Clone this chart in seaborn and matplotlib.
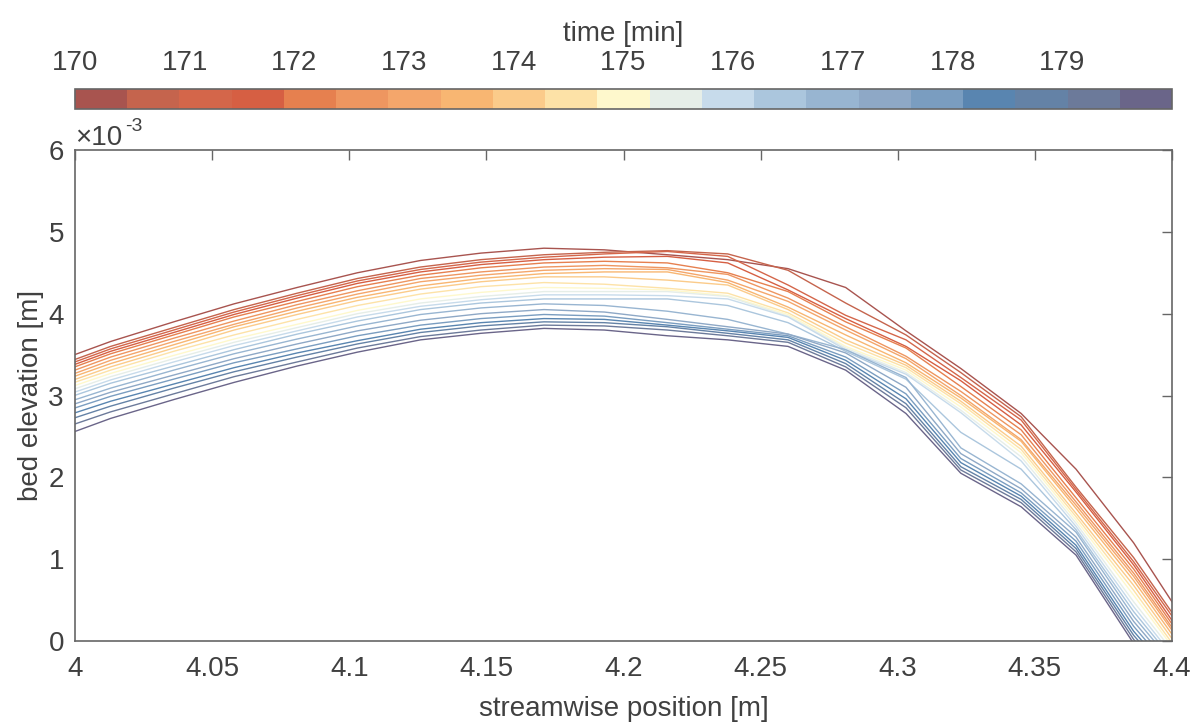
import matplotlib
matplotlib.use("Agg")
import matplotlib.pyplot as plt
import pandas as pd
import seaborn as sns
from matplotlib.colors import ListedColormap, Normalize
from matplotlib.cm import ScalarMappable

# streamwise sampling positions [m]
positions = [3.991, 4.013, 4.036, 4.058, 4.081, 4.103, 4.126, 4.148, 4.171, 4.193,
             4.216, 4.238, 4.260, 4.281, 4.303, 4.323, 4.345, 4.365, 4.386, 4.406]

# survey times [min]
times = [170.0, 170.5, 171.0, 171.5, 172.0, 172.5, 173.0, 173.5, 174.0, 174.5, 175.0,
         175.5, 176.0, 176.5, 177.0, 177.5, 178.0, 178.5, 179.0, 179.5, 180.0]

# bed elevation profiles, in units of 1e-3 m
z170_0 = [3.39, 3.66, 3.90, 4.12, 4.32, 4.50, 4.65, 4.74, 4.80, 4.78, 4.72, 4.66, 4.55, 4.32, 3.79, 3.33, 2.78, 2.10, 1.20, 0.17]
z170_5 = [3.33, 3.60, 3.83, 4.05, 4.25, 4.43, 4.57, 4.66, 4.72, 4.75, 4.77, 4.73, 4.53, 4.13, 3.74, 3.28, 2.74, 1.88, 1.02, 0.06]
z171_0 = [3.30, 3.57, 3.80, 4.02, 4.22, 4.40, 4.54, 4.63, 4.69, 4.73, 4.76, 4.70, 4.35, 3.98, 3.68, 3.22, 2.70, 1.85, 0.97, 0.02]
z171_5 = [3.27, 3.54, 3.77, 3.99, 4.19, 4.37, 4.51, 4.60, 4.66, 4.69, 4.70, 4.62, 4.29, 3.94, 3.60, 3.18, 2.64, 1.82, 0.93, -0.04]
z172_0 = [3.24, 3.51, 3.74, 3.96, 4.15, 4.33, 4.47, 4.56, 4.62, 4.64, 4.62, 4.50, 4.27, 3.90, 3.58, 3.11, 2.58, 1.75, 0.88, -0.08]
z172_5 = [3.20, 3.47, 3.70, 3.91, 4.11, 4.28, 4.43, 4.51, 4.57, 4.59, 4.56, 4.48, 4.19, 3.84, 3.48, 3.05, 2.52, 1.70, 0.83, -0.12]
z173_0 = [3.16, 3.43, 3.66, 3.87, 4.07, 4.24, 4.39, 4.47, 4.53, 4.55, 4.54, 4.41, 4.15, 3.80, 3.45, 3.00, 2.46, 1.66, 0.79, -0.15]
z173_5 = [3.13, 3.39, 3.62, 3.84, 4.03, 4.20, 4.34, 4.43, 4.49, 4.51, 4.51, 4.38, 4.08, 3.74, 3.40, 2.97, 2.44, 1.62, 0.74, -0.20]
z174_0 = [3.09, 3.35, 3.58, 3.80, 3.99, 4.16, 4.30, 4.39, 4.45, 4.45, 4.41, 4.35, 4.05, 3.68, 3.37, 2.93, 2.38, 1.56, 0.68, -0.25]
z174_5 = [3.06, 3.31, 3.54, 3.74, 3.93, 4.10, 4.24, 4.33, 4.38, 4.36, 4.31, 4.25, 4.01, 3.64, 3.34, 2.90, 2.34, 1.52, 0.62, -0.30]
z175_0 = [3.02, 3.27, 3.49, 3.69, 3.87, 4.04, 4.18, 4.26, 4.32, 4.31, 4.29, 4.22, 3.99, 3.60, 3.31, 2.86, 2.30, 1.48, 0.56, -0.33]
z175_5 = [2.98, 3.23, 3.45, 3.65, 3.83, 4.00, 4.13, 4.21, 4.27, 4.27, 4.27, 4.21, 3.97, 3.58, 3.28, 2.82, 2.25, 1.44, 0.48, -0.37]
z176_0 = [2.94, 3.19, 3.41, 3.61, 3.79, 3.96, 4.09, 4.17, 4.23, 4.23, 4.22, 4.18, 3.96, 3.56, 3.26, 2.79, 2.20, 1.40, 0.42, -0.42]
z176_5 = [2.90, 3.15, 3.36, 3.56, 3.75, 3.91, 4.05, 4.13, 4.18, 4.18, 4.18, 4.10, 3.89, 3.54, 3.20, 2.55, 2.10, 1.36, 0.36, -0.46]
z177_0 = [2.85, 3.09, 3.31, 3.51, 3.69, 3.85, 3.99, 4.07, 4.12, 4.10, 4.03, 3.93, 3.75, 3.56, 3.22, 2.36, 1.92, 1.33, 0.30, -0.50]
z177_5 = [2.80, 3.04, 3.25, 3.45, 3.63, 3.79, 3.92, 4.00, 4.05, 4.02, 3.93, 3.84, 3.75, 3.52, 3.10, 2.29, 1.86, 1.27, 0.24, -0.55]
z178_0 = [2.75, 2.99, 3.20, 3.40, 3.57, 3.73, 3.86, 3.94, 3.99, 3.97, 3.89, 3.81, 3.73, 3.47, 3.02, 2.23, 1.81, 1.22, 0.18, -0.60]
z178_5 = [2.69, 2.93, 3.14, 3.34, 3.52, 3.67, 3.81, 3.89, 3.94, 3.93, 3.86, 3.79, 3.71, 3.43, 2.96, 2.18, 1.77, 1.17, 0.12, -0.65]
z179_0 = [2.63, 2.87, 3.09, 3.29, 3.47, 3.63, 3.77, 3.85, 3.90, 3.89, 3.84, 3.76, 3.68, 3.39, 2.90, 2.13, 1.73, 1.13, 0.07, -0.70]
z179_5 = [2.55, 2.80, 3.02, 3.23, 3.41, 3.58, 3.72, 3.80, 3.86, 3.85, 3.80, 3.73, 3.65, 3.35, 2.85, 2.09, 1.69, 1.09, 0.02, -0.75]
z180_0 = [2.45, 2.72, 2.95, 3.16, 3.36, 3.53, 3.68, 3.76, 3.82, 3.80, 3.73, 3.68, 3.60, 3.31, 2.78, 2.05, 1.64, 1.05, -0.03, -0.80]

profiles = [z170_0, z170_5, z171_0, z171_5, z172_0, z172_5, z173_0, z173_5, z174_0,
            z174_5, z175_0, z175_5, z176_0, z176_5, z177_0, z177_5, z178_0, z178_5,
            z179_0, z179_5, z180_0]

# one colour per survey time, warm (early) to cool (late)
colours = ["#A8544F", "#C5644D", "#D4664A", "#D65F43", "#E6804F", "#EE9660", "#F4A66B",
           "#F8B672", "#FBCB8A", "#FDE2A7", "#FEF8CC", "#E6EEE8", "#C7DBEB", "#ABC6DD",
           "#98B5D1", "#8EA8C6", "#7A9DC0", "#5985B0", "#6482A6", "#6C7A9A", "#6A6589"]

x_ticks = [4.0, 4.05, 4.1, 4.15, 4.2, 4.25, 4.3, 4.35, 4.4]
x_tick_labels = ["4", "4.05", "4.1", "4.15", "4.2", "4.25", "4.3", "4.35", "4.4"]
y_ticks = [0, 1, 2, 3, 4, 5, 6]
cbar_ticks = [170, 171, 172, 173, 174, 175, 176, 177, 178, 179]

rows = []
for t, prof in zip(times, profiles):
    for x, z in zip(positions, prof):
        rows.append({"x": x, "z": z, "t": t})
df = pd.DataFrame(rows)

sns.set_theme(style="white")
plt.rcParams["font.family"] = ["Liberation Sans", "DejaVu Sans"]

W, H = 1202, 725
TXT = "#404040"
EDGE = "#666666"
FS = 20

fig = plt.figure(figsize=(W / 100, H / 100), dpi=100)
fig.patch.set_facecolor("white")

ax = fig.add_axes([75 / W, (H - 641) / H, 1097 / W, 491 / H])
sns.lineplot(data=df, x="x", y="z", hue="t", palette=dict(zip(times, colours)),
             estimator=None, sort=False, legend=False, linewidth=1.0, ax=ax)

ax.set_xlim(4.0, 4.4)
ax.set_ylim(0, 6)
ax.set_xticks(x_ticks)
ax.set_xticklabels(x_tick_labels)
ax.set_yticks(y_ticks)
ax.tick_params(direction="in", length=7.5, width=1.0, color=EDGE, top=True, right=True,
               labelsize=FS, labelcolor=TXT)
ax.tick_params(axis="x", pad=11)
ax.tick_params(axis="y", pad=8)
for s in ax.spines.values():
    s.set_color(EDGE)
    s.set_linewidth(1.2)
ax.set_xlabel("streamwise position [m]", fontsize=FS, color=TXT)
ax.set_ylabel("bed elevation [m]", fontsize=FS, color=TXT)
ax.xaxis.set_label_coords(0.5, -0.112)
ax.yaxis.set_label_coords(-0.028, 0.5)

# exponent of the elevation axis
ax.text(0.0, 0.998, "\u00d710", transform=ax.transAxes, fontsize=FS, color=TXT,
        ha="left", va="bottom")
ax.text(0.046, 1.03, "-3", transform=ax.transAxes, fontsize=14, color=TXT,
        ha="left", va="bottom")

# colour bar for the survey time
cax = fig.add_axes([75 / W, (H - 109) / H, 1097 / W, 20 / H])
sm = ScalarMappable(norm=Normalize(170, 180), cmap=ListedColormap(colours))
cb = fig.colorbar(sm, cax=cax, orientation="horizontal", ticklocation="top")
cb.set_ticks(cbar_ticks)
cb.ax.tick_params(direction="in", length=8.5, width=1.0, color=EDGE,
                  labelsize=FS, labelcolor=TXT, pad=9)
cb.outline.set_edgecolor(EDGE)
cb.outline.set_linewidth(1.2)
cb.set_label("time [min]", fontsize=FS, color=TXT, labelpad=7)

fig.savefig("out.png", dpi=100, facecolor="white")
